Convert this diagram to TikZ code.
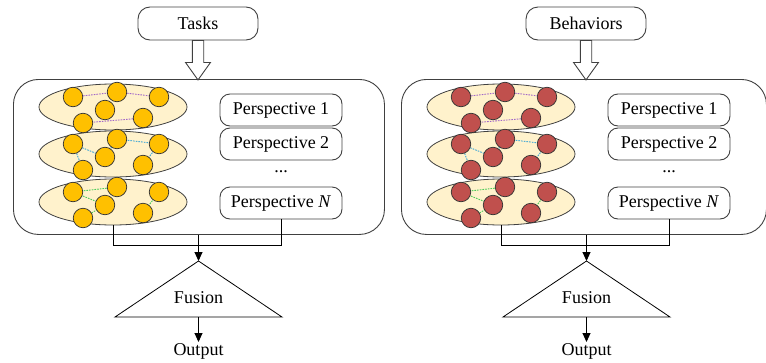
\documentclass[tikz,border=0pt]{standalone}
\usepackage{fontspec}
\setmainfont{Liberation Serif}
\usetikzlibrary{shapes.geometric,arrows.meta,calc}
\definecolor{orng}{HTML}{FFC000}
\definecolor{redc}{HTML}{C0504D}
\definecolor{ellf}{HTML}{FFF2CC}
\definecolor{edgec}{HTML}{404040}
\definecolor{dpur}{HTML}{A066C8}
\definecolor{dblu}{HTML}{3FA7D6}
\definecolor{dgrn}{HTML}{4CCB5A}
\pgfdeclarelayer{bgl}
\pgfdeclarelayer{midl}
\pgfsetlayers{bgl,midl,main}
\tikzset{
  txt/.style={font=\fontsize{18}{22}\selectfont},
  rbox/.style={draw=edgec, line width=0.9pt, rounded corners=10pt, minimum width=122pt, minimum height=32pt, inner sep=0pt, txt},
  bigbox/.style={draw=edgec, line width=0.9pt, rounded corners=25pt, inner sep=0pt},
  layerell/.style={ellipse, draw=black!75, line width=0.8pt, fill=ellf, minimum width=148pt, minimum height=46pt, inner sep=0pt},
  bead/.style={circle, draw=black!80, line width=0.7pt, minimum size=19.5pt, inner sep=0pt},
  linkd/.style={dash pattern=on 1.6pt off 1.1pt, line width=0.9pt},
  conn/.style={draw=black, line width=0.9pt},
  arr/.style={conn, -{Triangle[length=9pt,width=8pt]}},
  hollow/.style={draw=edgec, line width=0.9pt, fill=white},
  tri/.style={draw=black, line width=0.8pt},
}
\newcommand\drawpanel[5]{%
  % #1 prefix, #2 x offset, #3 label, #4 bead colour, #5 big box width
  \node[rbox, minimum width=120pt, minimum height=33pt, rounded corners=12pt] (#1task) at (#2+198,23.5) {#3};
  \begin{pgfonlayer}{bgl}
    \node[bigbox, minimum width=#5pt, minimum height=155pt, anchor=north west] (#1big) at (#2+13,79) {};
    \node[layerell] (#1e1) at (#2+113,107) {};
    \node[layerell] (#1e2) at (#2+113,154) {};
    \node[layerell] (#1e3) at (#2+113,202) {};
  \end{pgfonlayer}
  \draw[hollow] ($(#1task.south)+(-5.7,0)$) -- ++(0,22) -- ++(-6.8,0)
     -- ($(#1task.south)+(0,39.5)$) -- ($(#1task.south)+(12.5,22)$) -- ++(-6.8,0) -- ++(0,-22) -- cycle;
  \foreach \e in {1,2,3}{
    \foreach \c/\dx/\dy in {1/-40/-10, 2/4/-15, 3/46/-10, 4/-8/3, 5/-30/16, 6/30/11}{
      \node[bead, fill=#4] (#1e\e c\c) at ($(#1e\e)+(\dx,\dy)$) {};
    }
  }
  \begin{pgfonlayer}{midl}
    \draw[linkd, dpur] (#1e1c1) -- (#1e1c2) -- (#1e1c3);
    \draw[linkd, dpur] (#1e1c5.center) -- (#1e1c6.center);
    \draw[linkd, dblu] (#1e2c2.center) -- (#1e2c3.center);
    \draw[linkd, dblu] (#1e2c5.center) -- (#1e2c1.center) -- (#1e2c4.center) -- (#1e2c2.center);
    \draw[linkd, dblu] (#1e2c3.center) -- (#1e2c6.center);
    \draw[linkd, dgrn] (#1e3c1.center) -- (#1e3c2.center);
    \draw[linkd, dgrn] (#1e3c1.center) -- (#1e3c4.center) -- (#1e3c5.center);
    \draw[linkd, dgrn] (#1e3c3.center) -- (#1e3c6.center);
  \end{pgfonlayer}
  \node[rbox] (#1p1) at (#2+281,110) {Perspective 1};
  \node[rbox] (#1p2) at (#2+281,144) {Perspective 2};
  \node[txt, inner sep=0pt] (#1pd) at (#2+281,172) {...};
  \node[rbox] (#1pn) at (#2+281,203) {Perspective \textit{N}};
  \coordinate (#1join) at (#2+198.5,245);
  \draw[conn] (#1e3.south) -- (#1e3.south |- #1join) -- (#1pn.south |- #1join) -- (#1pn.south);
  \coordinate (#1apex) at (#2+198.5,261);
  \coordinate (#1bl) at (#2+115,317);
  \coordinate (#1br) at (#2+282,317);
  \draw[arr] (#1join |- #1big.south) -- (#1apex);
  \draw[tri] (#1apex) -- (#1br) -- (#1bl) -- cycle;
  \node[txt] (#1fus) at (#2+198.5,298) {Fusion};
  \coordinate (#1base) at (#1apex |- #1bl);
  \node[txt, inner sep=1pt, anchor=north] (#1out) at (#2+198.5,342) {Output};
  \draw[arr] (#1base) -- (#1out.north);
}
\begin{document}
\begin{tikzpicture}[x=1pt, y=-1pt]
  \useasboundingbox (0,0) rectangle (766,362);
  \drawpanel{L}{0}{Tasks}{orng}{371}
  \drawpanel{R}{388}{Behaviors}{redc}{365}
\end{tikzpicture}
\end{document}
